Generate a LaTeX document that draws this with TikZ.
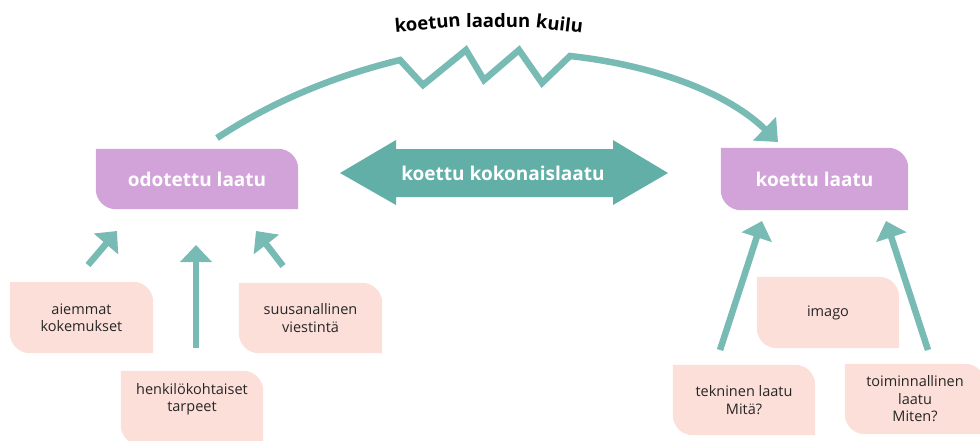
\documentclass[tikz,border=0pt]{standalone}
\usepackage{fontspec}
\setmainfont{Open Sans}
\usetikzlibrary{arrows.meta,backgrounds,calc}
\definecolor{purp}{HTML}{D1A3D9}
\definecolor{pinkb}{HTML}{FCDFD8}
\definecolor{tealA}{HTML}{78BBB5}
\definecolor{tealB}{HTML}{62AFA8}
\definecolor{txt}{HTML}{262626}
\newcommand{\leaffill}[3]{%
  \begin{scope}[on background layer]
  \fill[#2] (#1.north west) -- ($(#1.north east)+(-#3,0)$)
    .. controls ($(#1.north east)+(-0.45*#3,0)$) and ($(#1.north east)+(0,0.45*#3)$) .. ($(#1.north east)+(0,#3)$)
    -- (#1.south east) -- ($(#1.south west)+(#3,0)$)
    .. controls ($(#1.south west)+(0.45*#3,0)$) and ($(#1.south west)+(0,-0.45*#3)$) .. ($(#1.south west)+(0,-#3)$)
    -- cycle;
  \end{scope}}
\tikzset{
  purpbox/.style={inner sep=0pt, text=white, font=\fontsize{19}{22}\selectfont\bfseries},
  pinkbox/.style={inner sep=0pt, text=txt, align=center, font=\fontsize{14.5}{17.5}\selectfont},
  conn/.style={draw=tealA, line width=6.5pt, -{Triangle[length=17pt,width=31pt]}},
}
\begin{document}
\begin{tikzpicture}[x=1pt,y=-1pt]
\useasboundingbox (0,0) rectangle (980,440);
% main boxes
\node[purpbox, minimum width=202pt, minimum height=60pt] (odot) at (197,179) {odotettu laatu};
\node[purpbox, minimum width=187pt, minimum height=62pt] (koet) at (814.5,179) {koettu laatu};
\leaffill{odot}{purp}{20}
\leaffill{koet}{purp}{20}
% double arrow
\node[purpbox] (kok) at (503,173) {koettu kokonaislaatu};
\begin{scope}[on background layer]
\fill[tealB] (340,173) -- (396,140) -- (396,149) -- (613,149) -- (613,140) -- (668,173)
  -- (613,205) -- (613,197) -- (396,197) -- (396,205) -- cycle;
\end{scope}
% pink boxes
\node[pinkbox, minimum width=143pt, minimum height=71pt] (aiem) at (81.5,317.5) {aiemmat\\kokemukset};
\node[pinkbox, minimum width=142pt, minimum height=74pt] (henk) at (192,408) {henkilökohtaiset\\tarpeet\\[4pt]};
\node[pinkbox, minimum width=143pt, minimum height=70pt] (suus) at (310.5,318) {suusanallinen\\viestintä};
\node[pinkbox, minimum width=142pt, minimum height=71pt] (imago) at (828,312.5) {imago};
\node[pinkbox, minimum width=142pt, minimum height=70pt] (tekn) at (744,400) {tekninen laatu\\Mitä?};
\node[pinkbox, minimum width=140pt, minimum height=70pt] (toim) at (915,399) {toiminnallinen\\laatu\\Miten?};
\foreach \n in {aiem,henk,suus,imago,tekn,toim} {\leaffill{\n}{pinkb}{20}}
% connector end points
\coordinate (aiemT) at (88,265);  \coordinate (aiemH) at (117,231);
\coordinate (henkT) at (196,348); \coordinate (henkH) at (196,245);
\coordinate (suusT) at (283,266); \coordinate (suusH) at (256,231);
\coordinate (teknT) at (720,350); \coordinate (teknH) at (762,221);
\coordinate (toimT) at (928,350); \coordinate (toimH) at (886,221);
\coordinate (gapS) at (217,138);  \coordinate (gapE) at (778,142);
\draw[conn] (aiemT) -- (aiemH);
\draw[conn] (henkT) -- (henkH);
\draw[conn] (suusT) -- (suusH);
\draw[conn] (teknT) -- (teknH);
\draw[conn] (toimT) -- (toimH);
% gap arc
\draw[conn, -{Triangle[length=19pt,width=32pt]}] (gapS) .. controls (275,100) and (335,76) .. (400,60)
  -- (423,85) -- (466,50) -- (484,80) -- (519,50) -- (542,83) -- (570,56)
  .. controls (660,66) and (730,95) .. (gapE);
\node[font=\fontsize{18.5}{22}\selectfont\bfseries, text=black, inner sep=0pt] (gap) at (489,23)
  {\rotatebox{5}{koetun}\hspace{0.28em}\raisebox{4.5pt}{laadun}\hspace{0.28em}\raisebox{4.5pt}{\rotatebox{-7}{kuilu}}};
\end{tikzpicture}
\end{document}
